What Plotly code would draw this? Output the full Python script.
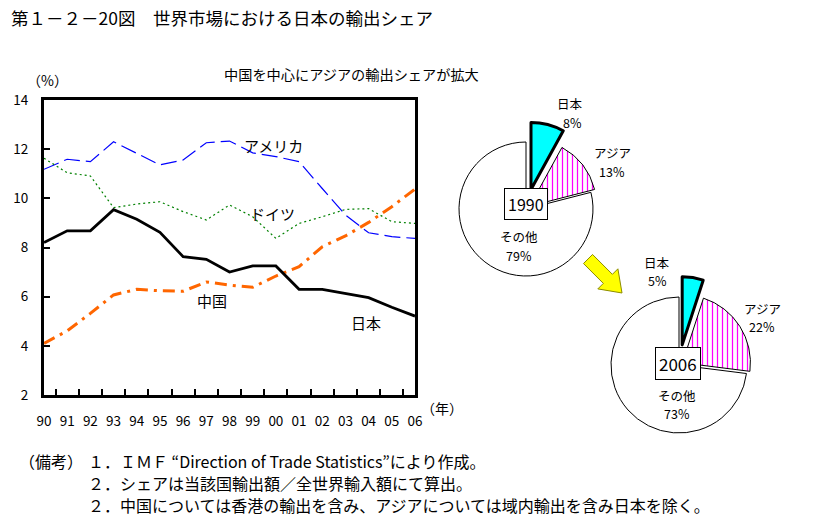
import math
import plotly.graph_objects as go

W, H = 833, 520

# ---------------- data ----------------
years = ["90", "91", "92", "93", "94", "95", "96", "97", "98",
         "99", "00", "01", "02", "03", "04", "05", "06"]
japan = [8.2, 8.68, 8.68, 9.54, 9.15, 8.62, 7.63, 7.52, 7.0,
         7.25, 7.25, 6.3, 6.3, 6.13, 5.96, 5.57, 5.21]
usa = [11.18, 11.59, 11.49, 12.3, 11.83, 11.36, 11.56, 12.26, 12.33,
       11.85, 11.7, 11.49, 10.4, 9.32, 8.6, 8.44, 8.37]
germany = [11.63, 11.04, 10.91, 9.62, 9.77, 9.86, 9.46, 9.12, 9.73,
           9.25, 8.37, 8.98, 9.25, 9.55, 9.58, 9.05, 8.98]
china = [4.1, 4.61, 5.32, 6.07, 6.3, 6.24, 6.22, 6.6, 6.47,
         6.38, 6.84, 7.22, 8.03, 8.47, 9.02, 9.66, 10.38]

pie_labels = ["日本", "アジア", "その他"]
pie1990 = [8, 13, 79]
pie2006 = [5, 22, 73]

FONT = "Noto Sans CJK JP"


def px(x):
    return x / W


def py(y):
    return 1 - y / H


fig = go.Figure()

line_specs = [
    ("アメリカ", usa, dict(color="#0000FF", width=1.2, dash="16px,6px")),
    ("ドイツ", germany, dict(color="#008000", width=1.2, dash="2px,3px")),
    ("中国", china, dict(color="#FF6600", width=3, dash="12px,6px,3px,6px")),
    ("日本", japan, dict(color="#000000", width=2.8)),
]
for name, vals, ln in line_specs:
    fig.add_trace(go.Scatter(x=years, y=vals, mode="lines", name=name,
                             line=ln, showlegend=False,
                             xaxis="x", yaxis="y"))


def pie_domain(cx, cy, r, maxpull):
    s = 2 * r * (1 + maxpull)
    return dict(x=[px(cx - s / 2), px(cx + s / 2)],
                y=[py(cy + s / 2), py(cy - s / 2)])


pie_common = dict(
    labels=pie_labels, sort=False, direction="clockwise", rotation=0,
    textinfo="none", hoverinfo="label+percent", showlegend=False,
)
pie_marker = dict(colors=["#00FFFF", "#FFFFFF", "#FFFFFF"],
                  line=dict(color="black", width=[3, 1, 1]),
                  pattern=dict(shape=["", "|", ""], fgcolor="#FF00FF",
                               size=5, solidity=0.25))

fig.add_trace(go.Pie(values=pie1990, pull=[0.3, 0.07, 0.0],
                     domain=pie_domain(526, 209, 67, 0.3),
                     marker=pie_marker, **pie_common))
fig.add_trace(go.Pie(values=pie2006, pull=[0.3, 0.06, 0.0],
                     domain=pie_domain(679, 365, 68, 0.3),
                     marker=pie_marker, **pie_common))

# ---------------- layout ----------------
axis_font = dict(family=FONT, size=13.5, color="black")
fig.update_layout(
    width=W, height=H,
    margin=dict(l=0, r=0, t=0, b=0, pad=0, autoexpand=False),
    paper_bgcolor="white", plot_bgcolor="white",
    font=dict(family=FONT, color="black"),
    showlegend=False,
    xaxis=dict(domain=[px(44), px(415)], type="category",
               tickson="boundaries", ticks="inside", ticklen=6, tickwidth=1.5,
               tickcolor="black", showline=True, linewidth=3,
               linecolor="black", mirror=True, showgrid=False,
               tickangle=0, automargin=False,
               tickfont=axis_font, ticklabelstandoff=12, fixedrange=True),
    yaxis=dict(domain=[py(395), py(100)], range=[2, 14], dtick=2,
               ticks="inside", ticklen=6, tickwidth=1.5, tickcolor="black",
               showline=True, linewidth=3, linecolor="black", mirror=True,
               showgrid=False, zeroline=False, tickfont=axis_font,
               automargin=False,
               ticklabelstandoff=10, fixedrange=True),
)

# ---------------- text ----------------
def txt(x, y, text, size=14, xanchor="center", bg=None, border=None):
    d = dict(x=px(x), y=py(y), xref="paper", yref="paper", text=text,
             showarrow=False, xanchor=xanchor, yanchor="middle",
             font=dict(family=FONT, size=size, color="black"))
    if bg:
        d.update(bgcolor=bg)
    if border:
        d.update(bordercolor=border, borderwidth=1, borderpad=3)
    fig.add_annotation(**d)


txt(9, 18, "第１－２－20図　世界市場における日本の輸出シェア", size=17.5, xanchor="left")
txt(351, 74, "中国を中心にアジアの輸出シェアが拡大", size=14.2)
txt(47, 80, "（%）", size=14)
txt(442, 408, "（年）", size=14)

txt(273, 145, "アメリカ", size=15)
txt(272, 213, "ドイツ", size=15)
txt(212, 300, "中国", size=15)
txt(366, 322, "日本", size=15)

PL = 12.5
txt(570, 104, "日本", size=PL)
txt(572, 122, "8%", size=PL)
txt(612, 152, "アジア", size=PL)
txt(612, 172, "13%", size=PL)
txt(519, 237, "その他", size=PL)
txt(519, 255, "79%", size=PL)

txt(657, 262, "日本", size=PL)
txt(657, 280, "5%", size=PL)
txt(762, 308, "アジア", size=PL)
txt(762, 326, "22%", size=PL)
txt(677, 395, "その他", size=PL)
txt(677, 413, "73%", size=PL)

txt(526, 204, "1990", size=16, bg="white", border="black")
txt(678, 363, "2006", size=17, bg="white", border="black")

NF = 16
txt(17, 461, "（備考）", size=NF, xanchor="left")
txt(86, 461, "１．ＩＭＦ “Direction of Trade Statistics”により作成。", size=NF, xanchor="left")
txt(86, 483, "２．シェアは当該国輸出額／全世界輸入額にて算出。", size=NF, xanchor="left")
txt(86, 505, "２．中国については香港の輸出を含み、アジアについては域内輸出を含み日本を除く。", size=NF, xanchor="left")

# ---------------- yellow arrow ----------------
sx, sy = 588, 259
tx, ty = 622, 293
L = math.hypot(tx - sx, ty - sy)
dx, dy = (tx - sx) / L, (ty - sy) / L
nx, ny = dy, -dx
hl, sw, hw = 20, 6.4, 14.2
hx, hy = tx - hl * dx, ty - hl * dy
pts = [(sx + sw * nx, sy + sw * ny), (hx + sw * nx, hy + sw * ny),
       (hx + hw * nx, hy + hw * ny), (tx, ty),
       (hx - hw * nx, hy - hw * ny), (hx - sw * nx, hy - sw * ny),
       (sx - sw * nx, sy - sw * ny)]
path = "M " + " L ".join(f"{px(a):.5f},{py(b):.5f}" for a, b in pts) + " Z"
fig.add_shape(type="path", path=path, xref="paper", yref="paper",
              fillcolor="#FFFF00", line=dict(color="#8C8C00", width=1))

fig.write_html("out.html",
               config={"displayModeBar": False},
               post_script="document.body.style.margin='0px';")
